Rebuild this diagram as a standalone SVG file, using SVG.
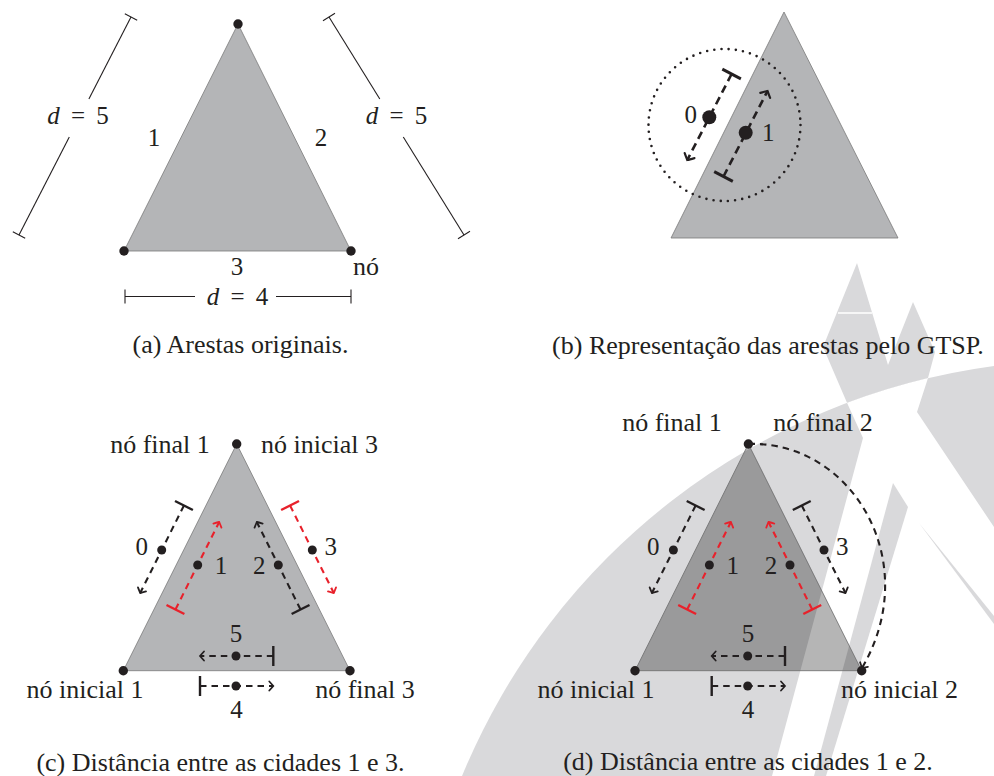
<svg xmlns="http://www.w3.org/2000/svg" width="994" height="776" viewBox="0 0 994 776">
<style>
.t{font-size:25px;fill:#231f20;text-anchor:middle}
.c{font-size:26px;fill:#231f20;text-anchor:middle}
.tri{fill:#b4b5b7;stroke:#7a7a7a;stroke-width:0.8}
.dot{fill:#231f20}
.dim{stroke:#231f20;stroke-width:1.1;fill:none}
.dk{stroke:#231f20;stroke-width:2.1;fill:none;stroke-dasharray:6.5 5}
.dr{stroke:#e8212b;stroke-width:2.1;fill:none;stroke-dasharray:6.5 5}
.bk{stroke:#231f20;stroke-width:2.4;fill:none}
.br{stroke:#e8212b;stroke-width:2.4;fill:none}
.db{stroke:#231f20;stroke-width:2.6;fill:none;stroke-dasharray:8 5}
.bb{stroke:#231f20;stroke-width:3;fill:none}
.wm{fill:#d9d9db}
</style>
<defs>
<marker id="ah" viewBox="-6 -6 8 12" markerWidth="8" markerHeight="12" refX="0" refY="0" orient="auto" markerUnits="userSpaceOnUse" overflow="visible">
<path d="M-4,-4.5 Q-1,-1.2 0,0 Q-1,1.2 -4,4.5" fill="none" stroke="#231f20" stroke-width="1.8" stroke-linecap="round" stroke-dasharray="none"/>
</marker>
<marker id="ahr" viewBox="-6 -6 8 12" markerWidth="8" markerHeight="12" refX="0" refY="0" orient="auto" markerUnits="userSpaceOnUse" overflow="visible">
<path d="M-4,-4.5 Q-1,-1.2 0,0 Q-1,1.2 -4,4.5" fill="none" stroke="#e8212b" stroke-width="1.8" stroke-linecap="round" stroke-dasharray="none"/>
</marker>
<marker id="ahb" viewBox="-8 -8 10 16" markerWidth="10" markerHeight="16" refX="0" refY="0" orient="auto" markerUnits="userSpaceOnUse" overflow="visible">
<path d="M-5,-5.5 Q-1.3,-1.5 0,0 Q-1.3,1.5 -5,5.5" fill="none" stroke="#231f20" stroke-width="2.2" stroke-linecap="round" stroke-dasharray="none"/>
</marker>
</defs>

<g id="watermark">
<path class="wm" d="M462,776 A672,672 0 0 1 994,366 L994,776 Z"/>
<path fill="#fff" d="M847,402.8 L863,438 L772,776 L994,776 L994,527 L917,412 L928,378 A672,672 0 0 0 847,402.8 Z"/>
<path class="wm" d="M857,263 L823,347 L847,402.8 A672,672 0 0 1 928,378 L935,352 L913,302 L888,365 Z"/>
<line x1="838" y1="313" x2="872" y2="313" stroke="#fff" stroke-width="1.5"/>
<polygon class="wm" points="893,483 908,507 826,776 814,776"/>
<polygon class="wm" points="919,523 994,616 994,624"/>
</g>

<!-- Panel (a) -->
<g id="a-edges"><polygon class="tri" points="238,24 124,251 351,251"/></g>
<g id="a-node-top"><circle class="dot" cx="238" cy="24" r="4.7"/></g>
<g id="a-node-left"><circle class="dot" cx="124" cy="251" r="4.7"/></g>
<g id="a-node-right"><circle class="dot" cx="351" cy="251" r="4.7"/><text class="c" font-family="Liberation Serif" x="366" y="275">nó</text></g>
<g id="a-labels">
<text class="t" font-family="Liberation Serif" x="154" y="146">1</text>
<text class="t" font-family="Liberation Serif" x="321" y="146">2</text>
<text class="t" font-family="Liberation Serif" x="237" y="275">3</text>
</g>
<g id="a-dimensions">
<line class="dim" x1="131" y1="17" x2="88.9" y2="99"/>
<line class="dim" x1="69.3" y1="137" x2="19" y2="235"/>
<line class="dim" x1="124.8" y1="13.8" x2="137.2" y2="20.2"/>
<line class="dim" x1="12.8" y1="231.8" x2="25.2" y2="238.2"/>
<line class="dim" x1="329" y1="17" x2="379.8" y2="99"/>
<line class="dim" x1="403.3" y1="137" x2="464" y2="235"/>
<line class="dim" x1="323" y1="20.7" x2="335" y2="13.3"/>
<line class="dim" x1="458" y1="238.7" x2="470" y2="231.3"/>
<line class="dim" x1="125" y1="296.5" x2="195" y2="296.5"/>
<line class="dim" x1="276" y1="296.5" x2="351" y2="296.5"/>
<line class="dim" x1="125" y1="289.5" x2="125" y2="303.5"/>
<line class="dim" x1="351" y1="289.5" x2="351" y2="303.5"/>
<text class="t" font-family="Liberation Serif" x="78" y="124"><tspan font-style="italic">d</tspan>&#8201; = &#8201;5</text>
<text class="t" font-family="Liberation Serif" x="396.5" y="124"><tspan font-style="italic">d</tspan>&#8201; = &#8201;5</text>
<text class="t" font-family="Liberation Serif" x="237.5" y="305"><tspan font-style="italic">d</tspan>&#8201; = &#8201;4</text>
</g>
<text class="c" font-family="Liberation Serif" x="240.5" y="353">(a) Arestas originais.</text>

<!-- Panel (b) -->
<g id="b-edges"><polygon class="tri" points="784,12 671,238 898,238"/></g>
<g id="b-region"><circle cx="724.5" cy="125" r="76" fill="none" stroke="#231f20" stroke-width="2.6" stroke-linecap="round" stroke-dasharray="0 7.235"/></g>
<g id="b-connectors">
<line class="db" x1="731.6" y1="74" x2="687.3" y2="160" marker-end="url(#ahb)"/>
<line class="bb" x1="722.3" y1="69.2" x2="740.9" y2="78.8"/>
<line class="db" x1="723.5" y1="176.5" x2="767.5" y2="91" marker-end="url(#ahb)"/>
<line class="bb" x1="714.2" y1="171.7" x2="732.8" y2="181.3"/>
</g>
<g id="b-node-0"><circle class="dot" cx="709.3" cy="117.3" r="7"/><text class="t" font-family="Liberation Serif" x="690.7" y="122.7">0</text></g>
<g id="b-node-1"><circle class="dot" cx="745.7" cy="132.7" r="7"/><text class="t" font-family="Liberation Serif" x="768.3" y="140.7">1</text></g>
<text class="c" font-family="Liberation Serif" x="768" y="354">(b) Representação das arestas pelo GTSP.</text>

<!-- Panel (c) -->
<g id="c-edges"><polygon class="tri" points="236.7,444 123.3,670.7 350,670.7"/></g>
<g id="c-connectors">
<line class="dk" x1="183.95" y1="505.5" x2="140.2" y2="593" marker-end="url(#ah)"/>
<line class="bk" x1="175" y1="501" x2="192.9" y2="510"/>
<line class="dr" x1="175.45" y1="609.5" x2="219.2" y2="522" marker-end="url(#ahr)"/>
<line class="br" x1="166.5" y1="605" x2="184.4" y2="614"/>
<line class="dk" x1="300.55" y1="609.5" x2="256.8" y2="522" marker-end="url(#ah)"/>
<line class="bk" x1="291.6" y1="614" x2="309.5" y2="605"/>
<line class="dr" x1="290.05" y1="505.5" x2="333.8" y2="593" marker-end="url(#ahr)"/>
<line class="br" x1="281.1" y1="510" x2="299" y2="501"/>
<line class="dk" x1="273.3" y1="656" x2="200" y2="656" marker-end="url(#ah)"/>
<line class="bk" x1="273.3" y1="646" x2="273.3" y2="666"/>
<line class="dk" x1="200" y1="686" x2="273.3" y2="686" marker-end="url(#ah)"/>
<line class="bk" x1="200" y1="676" x2="200" y2="696"/>
</g>
<g id="c-node-top"><circle class="dot" cx="236.7" cy="444" r="4.7"/>
<text class="c" font-family="Liberation Serif" x="160" y="453">nó final 1</text>
<text class="c" font-family="Liberation Serif" x="319.5" y="453">nó inicial 3</text></g>
<g id="c-node-left"><circle class="dot" cx="123.3" cy="670.7" r="4.7"/><text class="c" font-family="Liberation Serif" x="85" y="698">nó inicial 1</text></g>
<g id="c-node-right"><circle class="dot" cx="350" cy="670.7" r="4.7"/><text class="c" font-family="Liberation Serif" x="365" y="698">nó final 3</text></g>
<g id="c-city-0"><circle class="dot" cx="161.7" cy="550" r="4.5"/><text class="t" font-family="Liberation Serif" x="141.7" y="555">0</text></g>
<g id="c-city-1"><circle class="dot" cx="197.7" cy="565" r="4.5"/><text class="t" font-family="Liberation Serif" x="221" y="574">1</text></g>
<g id="c-city-2"><circle class="dot" cx="278.3" cy="565" r="4.5"/><text class="t" font-family="Liberation Serif" x="259.3" y="574">2</text></g>
<g id="c-city-3"><circle class="dot" cx="312.3" cy="550" r="4.5"/><text class="t" font-family="Liberation Serif" x="330.7" y="555">3</text></g>
<g id="c-city-5"><circle class="dot" cx="236" cy="656" r="4.5"/><text class="t" font-family="Liberation Serif" x="236" y="642">5</text></g>
<g id="c-city-4"><circle class="dot" cx="236" cy="686" r="4.5"/><text class="t" font-family="Liberation Serif" x="236.5" y="718">4</text></g>
<text class="c" font-family="Liberation Serif" x="220.5" y="771">(c) Distância entre as cidades 1 e 3.</text>

<!-- Panel (d) -->
<g id="d-edges"><polygon points="748.4,444 635,670.7 861.7,670.7" fill="#000" fill-opacity="0.29" stroke="#6a6a6a" stroke-width="0.8"/></g>
<g id="d-connectors">
<line class="dk" x1="695.65" y1="505.5" x2="651.9" y2="593" marker-end="url(#ah)"/>
<line class="bk" x1="686.7" y1="501" x2="704.6" y2="510"/>
<line class="dr" x1="687.15" y1="609.5" x2="730.9" y2="522" marker-end="url(#ahr)"/>
<line class="br" x1="678.2" y1="605" x2="696.1" y2="614"/>
<line class="dr" x1="812.25" y1="609.5" x2="768.5" y2="522" marker-end="url(#ahr)"/>
<line class="br" x1="803.3" y1="614" x2="821.2" y2="605"/>
<line class="dk" x1="801.75" y1="505.5" x2="845.5" y2="593" marker-end="url(#ah)"/>
<line class="bk" x1="792.8" y1="510" x2="810.7" y2="501"/>
<line class="dk" x1="785" y1="656" x2="711.7" y2="656" marker-end="url(#ah)"/>
<line class="bk" x1="785" y1="646" x2="785" y2="666"/>
<line class="dk" x1="711.7" y1="686" x2="785" y2="686" marker-end="url(#ah)"/>
<line class="bk" x1="711.7" y1="676" x2="711.7" y2="696"/>
<path class="dk" d="M748.4,444 C850,440 925,560 862,668" marker-end="url(#ah)"/>
</g>
<g id="d-node-top"><circle class="dot" cx="748.4" cy="444" r="4.7"/>
<text class="c" font-family="Liberation Serif" x="672" y="431">nó final 1</text>
<text class="c" font-family="Liberation Serif" x="823" y="431">nó final 2</text></g>
<g id="d-node-left"><circle class="dot" cx="635" cy="670.7" r="4.7"/><text class="c" font-family="Liberation Serif" x="596" y="698">nó inicial 1</text></g>
<g id="d-node-right"><circle class="dot" cx="861.7" cy="670.7" r="4.7"/><text class="c" font-family="Liberation Serif" x="899.5" y="698">nó inicial 2</text></g>
<g id="d-city-0"><circle class="dot" cx="673.4" cy="550" r="4.5"/><text class="t" font-family="Liberation Serif" x="653.3" y="555">0</text></g>
<g id="d-city-1"><circle class="dot" cx="709.4" cy="565" r="4.5"/><text class="t" font-family="Liberation Serif" x="732.7" y="574">1</text></g>
<g id="d-city-2"><circle class="dot" cx="790" cy="565" r="4.5"/><text class="t" font-family="Liberation Serif" x="771" y="574">2</text></g>
<g id="d-city-3"><circle class="dot" cx="824" cy="550" r="4.5"/><text class="t" font-family="Liberation Serif" x="842.3" y="555">3</text></g>
<g id="d-city-5"><circle class="dot" cx="747.7" cy="656" r="4.5"/><text class="t" font-family="Liberation Serif" x="748" y="642">5</text></g>
<g id="d-city-4"><circle class="dot" cx="747.7" cy="686" r="4.5"/><text class="t" font-family="Liberation Serif" x="748" y="718">4</text></g>
<text class="c" font-family="Liberation Serif" x="748" y="770">(d) Distância entre as cidades 1 e 2.</text>
</svg>
